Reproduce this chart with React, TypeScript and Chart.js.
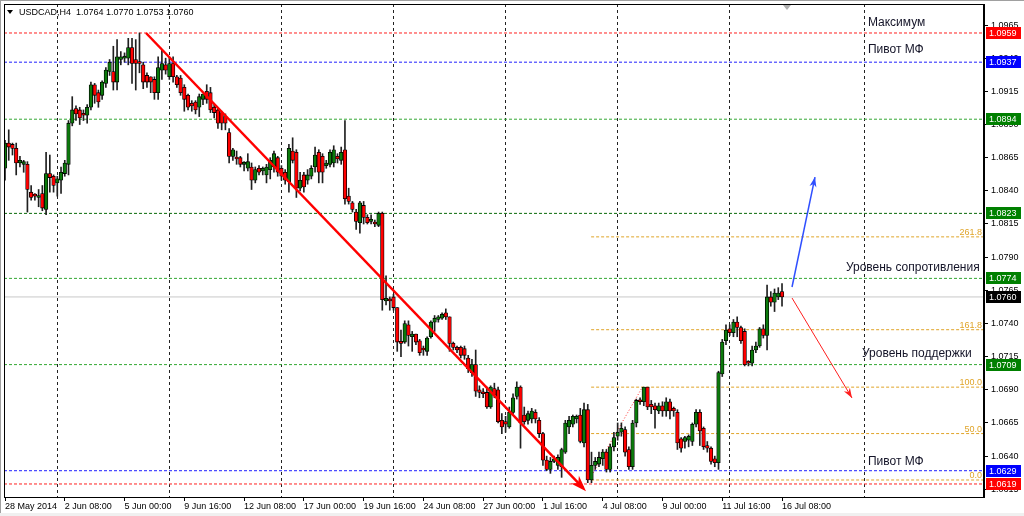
import React, { useEffect, useRef } from 'react';
import { Chart, registerables } from 'chart.js';
Chart.register(...registerables);

// ---------- DATA ----------
const opens = [
  1.0857,1.0876,1.0875,1.0872,1.0861,1.0860,1.0860,1.0839,1.0837,1.0835,
  1.0838,1.0826,1.0853,1.0851,1.0846,1.0848,1.0853,1.0860,1.0891,1.0902,
  1.0901,1.0898,1.0897,1.0903,1.0920,1.0914,1.0912,1.0921,1.0930,1.0930,
  1.0922,1.0939,1.0940,1.0940,1.0948,1.0939,1.0937,1.0935,1.0927,1.0926,
  1.0924,1.0914,1.0931,1.0935,1.0926,1.0936,1.0926,1.0925,1.0918,1.0912,
  1.0906,1.0907,1.0903,1.0909,1.0915,1.0914,1.0903,1.0901,1.0899,1.0896,
  1.0884,1.0866,1.0865,1.0865,1.0860,1.0857,1.0858,1.0848,1.0857,1.0855,
  1.0852,1.0856,1.0858,1.0865,1.0857,1.0854,1.0847,1.0870,1.0869,1.0842,
  1.0852,1.0848,1.0851,1.0858,1.0869,1.0866,1.0859,1.0860,1.0861,1.0866,
  1.0863,1.0871,1.0836,1.0831,1.0824,1.0816,1.0829,1.0820,1.0817,1.0816,
  1.0814,1.0823,1.0757,1.0758,1.0760,1.0752,1.0726,1.0726,1.0739,1.0730,
  1.0732,1.0727,1.0721,1.0719,1.0730,1.0741,1.0743,1.0744,1.0748,1.0745,
  1.0725,1.0722,1.0722,1.0721,1.0714,1.0703,1.0709,1.0690,1.0688,1.0688,
  1.0677,1.0691,1.0690,1.0667,1.0666,1.0662,1.0673,1.0685,1.0692,1.0671,
  1.0667,1.0668,1.0673,1.0667,1.0657,1.0637,1.0630,1.0636,1.0633,1.0632,
  1.0643,1.0662,1.0664,1.0668,1.0671,1.0650,1.0675,1.0622,1.0633,1.0634,
  1.0638,1.0643,1.0630,1.0647,1.0655,1.0658,1.0660,1.0645,1.0632,1.0665,
  1.0682,1.0681,1.0692,1.0679,1.0678,1.0674,1.0678,1.0674,1.0681,1.0676,
  1.0673,1.0653,1.0651,1.0652,1.0651,1.0664,1.0673,1.0661,1.0648,1.0646,
  1.0638,1.0635,1.0702,1.0727,1.0736,1.0733,1.0741,1.0737,1.0734,1.0711,
  1.0710,1.0720,1.0723,1.0736,1.0731,1.0760,1.0756,1.0760,1.0764,
];
const highs = [
  1.0878,1.0886,1.0876,1.0876,1.0866,1.0863,1.0862,1.0844,1.0838,1.0841,
  1.0844,1.0869,1.0867,1.0852,1.0851,1.0858,1.0863,1.0893,1.0911,1.0904,
  1.0903,1.0901,1.0905,1.0922,1.0921,1.0916,1.0923,1.0933,1.0939,1.0949,
  1.0954,1.0945,1.0944,1.0955,1.0955,1.0954,1.0959,1.0937,1.0929,1.0926,
  1.0926,1.0941,1.0946,1.0940,1.0941,1.0941,1.0927,1.0927,1.0920,1.0913,
  1.0908,1.0908,1.0913,1.0913,1.0920,1.0918,1.0905,1.0902,1.0900,1.0898,
  1.0887,1.0872,1.0870,1.0866,1.0862,1.0868,1.0861,1.0858,1.0859,1.0858,
  1.0860,1.0865,1.0870,1.0866,1.0859,1.0856,1.0875,1.0880,1.0871,1.0854,
  1.0854,1.0856,1.0859,1.0873,1.0871,1.0868,1.0863,1.0871,1.0874,1.0868,
  1.0873,1.0893,1.0842,1.0832,1.0826,1.0832,1.0832,1.0822,1.0822,1.0818,
  1.0824,1.0824,1.0776,1.0760,1.0762,1.0752,1.0735,1.0742,1.0742,1.0734,
  1.0732,1.0728,1.0723,1.0730,1.0742,1.0746,1.0746,1.0748,1.0751,1.0745,
  1.0726,1.0723,1.0723,1.0723,1.0716,1.0713,1.0720,1.0693,1.0691,1.0692,
  1.0693,1.0695,1.0692,1.0672,1.0670,1.0677,1.0687,1.0696,1.0693,1.0677,
  1.0674,1.0676,1.0675,1.0669,1.0658,1.0640,1.0639,1.0640,1.0641,1.0646,
  1.0667,1.0670,1.0671,1.0671,1.0676,1.0680,1.0679,1.0643,1.0639,1.0643,
  1.0645,1.0645,1.0649,1.0658,1.0665,1.0665,1.0662,1.0647,1.0667,1.0683,
  1.0684,1.0692,1.0692,1.0682,1.0680,1.0680,1.0681,1.0684,1.0683,1.0677,
  1.0675,1.0654,1.0655,1.0656,1.0665,1.0675,1.0675,1.0662,1.0651,1.0647,
  1.0640,1.0704,1.0728,1.0739,1.0739,1.0743,1.0745,1.0738,1.0736,1.0712,
  1.0723,1.0726,1.0737,1.0739,1.0769,1.0764,1.0766,1.0767,1.0770,
];
const lows = [
  1.0848,1.0863,1.0867,1.0852,1.0858,1.0854,1.0824,1.0833,1.0833,1.0828,
  1.0825,1.0822,1.0839,1.0839,1.0836,1.0838,1.0851,1.0852,1.0889,1.0893,
  1.0890,1.0893,1.0891,1.0901,1.0906,1.0903,1.0909,1.0918,1.0927,1.0916,
  1.0916,1.0935,1.0937,1.0935,1.0921,1.0916,1.0929,1.0917,1.0918,1.0914,
  1.0909,1.0909,1.0924,1.0928,1.0924,1.0922,1.0918,1.0912,1.0900,1.0901,
  1.0900,1.0898,1.0896,1.0905,1.0906,1.0899,1.0895,1.0887,1.0886,1.0886,
  1.0861,1.0863,1.0860,1.0858,1.0855,1.0855,1.0841,1.0846,1.0852,1.0852,
  1.0846,1.0849,1.0854,1.0851,1.0848,1.0845,1.0839,1.0861,1.0835,1.0840,
  1.0839,1.0845,1.0849,1.0854,1.0846,1.0846,1.0857,1.0858,1.0858,1.0861,
  1.0860,1.0830,1.0830,1.0824,1.0811,1.0808,1.0815,1.0815,1.0815,1.0813,
  1.0813,1.0750,1.0754,1.0750,1.0750,1.0719,1.0715,1.0725,1.0723,1.0719,
  1.0724,1.0716,1.0716,1.0716,1.0729,1.0734,1.0741,1.0743,1.0743,1.0719,
  1.0720,1.0718,1.0714,1.0713,1.0703,1.0700,1.0685,1.0684,1.0684,1.0676,
  1.0676,1.0684,1.0665,1.0657,1.0658,1.0661,1.0672,1.0683,1.0646,1.0664,
  1.0664,1.0665,1.0665,1.0654,1.0633,1.0629,1.0627,1.0635,1.0630,1.0624,
  1.0642,1.0657,1.0662,1.0665,1.0650,1.0647,1.0620,1.0620,1.0630,1.0632,
  1.0633,1.0628,1.0628,1.0644,1.0652,1.0655,1.0640,1.0630,1.0630,1.0662,
  1.0679,1.0678,1.0675,1.0672,1.0661,1.0672,1.0670,1.0670,1.0668,1.0670,
  1.0645,1.0643,1.0646,1.0647,1.0648,1.0662,1.0648,1.0645,1.0643,1.0634,
  1.0632,1.0630,1.0700,1.0724,1.0731,1.0730,1.0730,1.0725,1.0708,1.0708,
  1.0708,1.0718,1.0722,1.0729,1.0720,1.0753,1.0749,1.0758,1.0753,
];
const closes = [
  1.0876,1.0873,1.0872,1.0861,1.0863,1.0862,1.0841,1.0835,1.0836,1.0836,
  1.0827,1.0853,1.0850,1.0844,1.0849,1.0854,1.0861,1.0891,1.0901,1.0898,
  1.0895,1.0897,1.0903,1.0920,1.0912,1.0907,1.0922,1.0931,1.0937,1.0922,
  1.0941,1.0941,1.0941,1.0948,1.0936,1.0936,1.0936,1.0922,1.0922,1.0922,
  1.0914,1.0933,1.0936,1.0931,1.0936,1.0926,1.0920,1.0914,1.0909,1.0903,
  1.0904,1.0901,1.0911,1.0913,1.0909,1.0901,1.0899,1.0891,1.0891,1.0891,
  1.0866,1.0871,1.0864,1.0860,1.0860,1.0862,1.0848,1.0856,1.0854,1.0857,
  1.0858,1.0863,1.0868,1.0854,1.0851,1.0848,1.0872,1.0863,1.0842,1.0848,
  1.0843,1.0852,1.0857,1.0867,1.0854,1.0854,1.0861,1.0869,1.0871,1.0864,
  1.0869,1.0834,1.0832,1.0826,1.0817,1.0831,1.0820,1.0816,1.0817,1.0815,
  1.0823,1.0758,1.0759,1.0757,1.0752,1.0726,1.0725,1.0740,1.0731,1.0732,
  1.0726,1.0718,1.0720,1.0729,1.0741,1.0744,1.0745,1.0747,1.0745,1.0725,
  1.0722,1.0720,1.0716,1.0716,1.0706,1.0709,1.0689,1.0688,1.0687,1.0677,
  1.0692,1.0686,1.0666,1.0662,1.0664,1.0673,1.0684,1.0692,1.0665,1.0666,
  1.0672,1.0674,1.0668,1.0657,1.0637,1.0630,1.0636,1.0638,1.0639,1.0645,
  1.0665,1.0667,1.0670,1.0670,1.0651,1.0675,1.0622,1.0633,1.0636,1.0639,
  1.0643,1.0630,1.0647,1.0654,1.0658,1.0661,1.0643,1.0632,1.0665,1.0682,
  1.0681,1.0692,1.0677,1.0677,1.0675,1.0678,1.0674,1.0681,1.0674,1.0674,
  1.0650,1.0646,1.0654,1.0655,1.0664,1.0673,1.0659,1.0647,1.0646,1.0636,
  1.0635,1.0703,1.0726,1.0735,1.0733,1.0741,1.0737,1.0727,1.0709,1.0710,
  1.0720,1.0723,1.0736,1.0731,1.0760,1.0756,1.0763,1.0763,1.0760,
];

const xTickBars = [0, 16, 32, 48, 64, 80, 96, 112, 128, 144, 160, 176, 192, 208];
const xTickLabels = [
  '28 May 2014', '2 Jun 08:00', '5 Jun 00:00', '9 Jun 16:00', '12 Jun 08:00',
  '17 Jun 00:00', '19 Jun 16:00', '24 Jun 08:00', '27 Jun 00:00', '1 Jul 16:00',
  '4 Jul 08:00', '9 Jul 00:00', '11 Jul 16:00', '16 Jul 08:00',
];
const weekGridBars = [14, 44, 74, 104, 134, 164, 194, 230];
const yTicks = [1.0615, 1.0640, 1.0665, 1.0690, 1.0715, 1.0740, 1.0765, 1.0790,
  1.0815, 1.0840, 1.0865, 1.0890, 1.0915, 1.0940, 1.0965];

const levelPrices = [1.0959, 1.0937, 1.0894, 1.0823, 1.0774, 1.0709, 1.0629, 1.0619];
const bidPrice = 1.0760;

const fibStartBar = 156.9;
const fibPrices = [1.0622, 1.0657, 1.0692, 1.07353, 1.08053];
const fibLabels = ['0.0', '50.0', '100.0', '161.8', '261.8'];
const fibBaseBars = [157.4, 170.5];
const fibBasePrices = [1.06273, 1.06914];

const trendMainBars = [37.75, 154.73];
const trendMainPrices = [1.0959, 1.0616];
const arrowUpBars = [210.68, 216.83];
const arrowUpPrices = [1.07675, 1.08504];
const arrowDownBars = [210.68, 226.74];
const arrowDownPrices = [1.07592, 1.06838];

const textLabels = ['Максимум', 'Пивот МФ', 'Уровень сопротивления', 'Уровень поддержки', 'Пивот МФ'];
const textBars = [231.0, 231.0, 225.1, 229.4, 231.0];
const textPrices = [1.09665, 1.09462, 1.07818, 1.07170, 1.06356];

const headerText = 'USDCAD,H4  1.0764 1.0770 1.0753 1.0760';

// ---------- STYLES / AXIS RANGE ----------
const X_MIN = -0.2677;
const X_MAX = 262.07;
const Y_MIN = 1.060918;
const Y_MAX = 1.098086;
const FONT = "'Liberation Sans', Arial, sans-serif";
const BULL = '#0b7a0b';
const BEAR = '#ff0000';
const levelLineColors = ['#ff2020', '#2020ff', '#33a833', '#0a6a0a', '#33a833', '#33a833', '#2020ff', '#ff2020'];
const levelBoxColors = ['#ff0000', '#0000ff', '#008000', '#008000', '#008000', '#008000', '#0000ff', '#ff0000'];
const FIB_COLOR = '#e0a428';

function arrowHead(ctx: CanvasRenderingContext2D, x1: number, y1: number, x2: number, y2: number, len: number, w: number, color: string) {
  const a = Math.atan2(y2 - y1, x2 - x1);
  const bx = x2 - len * Math.cos(a);
  const by = y2 - len * Math.sin(a);
  ctx.beginPath();
  ctx.moveTo(x2, y2);
  ctx.lineTo(bx + (w / 2) * Math.sin(a), by - (w / 2) * Math.cos(a));
  ctx.lineTo(x2 - len * 0.7 * Math.cos(a), y2 - len * 0.7 * Math.sin(a));
  ctx.lineTo(bx - (w / 2) * Math.sin(a), by + (w / 2) * Math.cos(a));
  ctx.closePath();
  ctx.fillStyle = color;
  ctx.fill();
}

const noPad = (s: any) => {
  s.paddingTop = 0; s.paddingBottom = 0; s.paddingLeft = 0; s.paddingRight = 0;
};

const overlayPlugin = {
  id: 'overlay',
  beforeDraw(chart: any) {
    const { ctx, width, height } = chart;
    ctx.save();
    ctx.fillStyle = '#ffffff';
    ctx.fillRect(0, 0, width, height);
    ctx.fillStyle = '#a0a0a0';
    ctx.fillRect(0, 0, width, 1);
    ctx.fillRect(0, 0, 1, height);
    ctx.fillStyle = '#f0f0f0';
    ctx.fillRect(0, 513, width, 3);
    ctx.restore();
  },
  afterDraw(chart: any) {
    const { ctx, chartArea } = chart;
    const xs = chart.scales.x;
    const ys = chart.scales.y;
    const px = (b: number) => xs.getPixelForValue(b);
    const py = (p: number) => ys.getPixelForValue(p);
    ctx.save();

    // frame
    ctx.strokeStyle = '#000';
    ctx.lineWidth = 1;
    ctx.strokeRect(Math.round(chartArea.left) + 0.5, Math.round(chartArea.top) + 0.5,
      Math.round(chartArea.right - chartArea.left) - 1, Math.round(chartArea.bottom - chartArea.top));

    // arrow heads
    arrowHead(ctx, px(trendMainBars[0]), py(trendMainPrices[0]), px(trendMainBars[1]) + 3, py(trendMainPrices[1]) + 3.2, 16, 11, '#ff0000');
    arrowHead(ctx, px(arrowUpBars[0]), py(arrowUpPrices[0]), px(arrowUpBars[1]), py(arrowUpPrices[1]), 10, 7, '#2f4fff');
    arrowHead(ctx, px(arrowDownBars[0]), py(arrowDownPrices[0]), px(arrowDownBars[1]), py(arrowDownPrices[1]), 10, 7, '#ff2020');

    // fib labels
    ctx.font = `9px ${FONT}`;
    ctx.fillStyle = FIB_COLOR;
    ctx.textAlign = 'right';
    ctx.textBaseline = 'alphabetic';
    fibPrices.forEach((p, i) => {
      ctx.fillText(fibLabels[i], chartArea.right - 2, py(p) - 2);
    });

    // text labels
    ctx.font = `12px ${FONT}`;
    ctx.fillStyle = '#141428';
    ctx.textAlign = 'left';
    ctx.textBaseline = 'middle';
    textLabels.forEach((t, i) => {
      ctx.fillText(t, px(textBars[i]), py(textPrices[i]));
    });

    // price boxes
    ctx.font = `9px ${FONT}`;
    ctx.textBaseline = 'middle';
    const drawBox = (p: number, color: string) => {
      const y = Math.round(py(p));
      ctx.fillStyle = color;
      ctx.fillRect(986, y - 6, 35, 12);
      ctx.fillStyle = '#ffffff';
      ctx.textAlign = 'left';
      ctx.fillText(p.toFixed(4), 989, y + 0.5);
    };
    levelPrices.forEach((p, i) => drawBox(p, levelBoxColors[i]));
    drawBox(bidPrice, '#000000');

    // header
    ctx.fillStyle = '#000';
    ctx.beginPath();
    ctx.moveTo(7, 10); ctx.lineTo(13, 10); ctx.lineTo(10, 14); ctx.closePath();
    ctx.fill();
    ctx.font = `9px ${FONT}`;
    ctx.textAlign = 'left';
    ctx.textBaseline = 'middle';
    ctx.fillText(headerText, 19, 12.5);

    // shift marker
    ctx.fillStyle = '#b0b0b0';
    ctx.beginPath();
    ctx.moveTo(783, 5); ctx.lineTo(791, 5); ctx.lineTo(787, 10); ctx.closePath();
    ctx.fill();

    ctx.restore();
  },
};

export default function App() {
  const ref = useRef<HTMLCanvasElement>(null);
  useEffect(() => {
    if (!ref.current) return;
    const idx = opens.map((_, i) => i);
    const wickData = idx.map((i) => ({ x: i, y: [lows[i], highs[i]] }));
    const bodyData = idx.map((i) => ({ x: i, y: [Math.min(opens[i], closes[i]), Math.max(opens[i], closes[i])] }));
    const bodyColors = idx.map((i) => (closes[i] >= opens[i] ? BULL : BEAR));

    const hLine = (p: number, x0: number, color: string, dash: number[], order: number) => ({
      type: 'line' as const,
      data: [{ x: x0, y: p }, { x: X_MAX, y: p }],
      borderColor: color,
      borderWidth: 1,
      borderDash: dash,
      pointRadius: 0,
      order,
    });

    const datasets: any[] = [];
    levelPrices.forEach((p, i) => datasets.push(hLine(p, X_MIN, levelLineColors[i], [3, 2], 5)));
    datasets.push(hLine(bidPrice, X_MIN, '#c8c8c8', [], 6));
    fibPrices.forEach((p) => datasets.push(hLine(p, fibStartBar, FIB_COLOR, [3, 2], 5)));
    datasets.push({
      type: 'line', data: fibBaseBars.map((b, i) => ({ x: b, y: fibBasePrices[i] })),
      borderColor: '#ff3030', borderWidth: 1, borderDash: [1, 2], pointRadius: 0, order: 4,
    });
    datasets.push({
      type: 'bar', data: wickData, backgroundColor: '#202020', barThickness: 1,
      grouped: false, order: 3,
    });
    datasets.push({
      type: 'bar', data: bodyData, backgroundColor: bodyColors, borderColor: '#000000',
      borderWidth: 0.8, borderSkipped: false, barThickness: 3.6, minBarLength: 2, grouped: false, order: 2,
    });
    datasets.push({
      type: 'line', data: trendMainBars.map((b, i) => ({ x: b, y: trendMainPrices[i] })),
      borderColor: '#ff0000', borderWidth: 2.5, pointRadius: 0, order: 1,
    });
    datasets.push({
      type: 'line', data: arrowUpBars.map((b, i) => ({ x: b, y: arrowUpPrices[i] })),
      borderColor: '#2f4fff', borderWidth: 1.5, pointRadius: 0, order: 1,
    });
    datasets.push({
      type: 'line', data: arrowDownBars.map((b, i) => ({ x: b, y: arrowDownPrices[i] })),
      borderColor: '#ff2020', borderWidth: 1, pointRadius: 0, order: 1,
    });

    const chart = new Chart(ref.current, {
      type: 'bar',
      data: { datasets },
      plugins: [overlayPlugin],
      options: {
        animation: false,
        responsive: false,
        devicePixelRatio: 1,
        events: [],
        layout: { padding: { left: 4, top: 4, right: 0, bottom: 0 } },
        plugins: { legend: { display: false }, tooltip: { enabled: false } },
        scales: {
          x: {
            type: 'linear',
            position: 'bottom',
            min: X_MIN,
            max: X_MAX,
            offset: false,
            afterBuildTicks: (s: any) => { s.ticks = xTickBars.map((v) => ({ value: v })); },
            afterFit: (s: any) => { s.height = 19; noPad(s); },
            ticks: {
              autoSkip: false, maxRotation: 0, minRotation: 0, align: 'start', padding: 0,
              color: '#000', font: { family: FONT, size: 9 },
              callback: (_v: any, i: number) => xTickLabels[i],
            },
            grid: { drawOnChartArea: false, tickLength: 4, color: '#000', offset: false },
            border: { display: true, color: '#000' },
          },
          xg: {
            type: 'linear',
            position: 'bottom',
            min: X_MIN,
            max: X_MAX,
            offset: false,
            afterBuildTicks: (s: any) => { s.ticks = weekGridBars.map((v) => ({ value: v })); },
            afterFit: (s: any) => { s.height = 0; noPad(s); },
            ticks: { display: false },
            grid: { drawTicks: false, color: '#222', lineWidth: 1, offset: false },
            border: { display: false, dash: [3, 3] },
          },
          y: {
            type: 'linear',
            position: 'right',
            min: Y_MIN,
            max: Y_MAX,
            beginAtZero: false,
            afterBuildTicks: (s: any) => { s.ticks = yTicks.map((v) => ({ value: v })); },
            afterFit: (s: any) => { s.width = 40; noPad(s); },
            ticks: {
              padding: 3, color: '#000', font: { family: FONT, size: 9 },
              callback: (v: any) => Number(v).toFixed(4),
            },
            grid: { drawOnChartArea: false, tickLength: 4, color: '#000' },
            border: { display: true, color: '#000' },
          },
        },
      } as any,
    });
    return () => chart.destroy();
  }, []);

  return (
    <div style={{ position: 'fixed', left: 0, top: 0, width: 1024, height: 516, background: '#fff' }}>
      <canvas ref={ref} width={1024} height={516} style={{ display: 'block', width: 1024, height: 516 }} />
    </div>
  );
}
